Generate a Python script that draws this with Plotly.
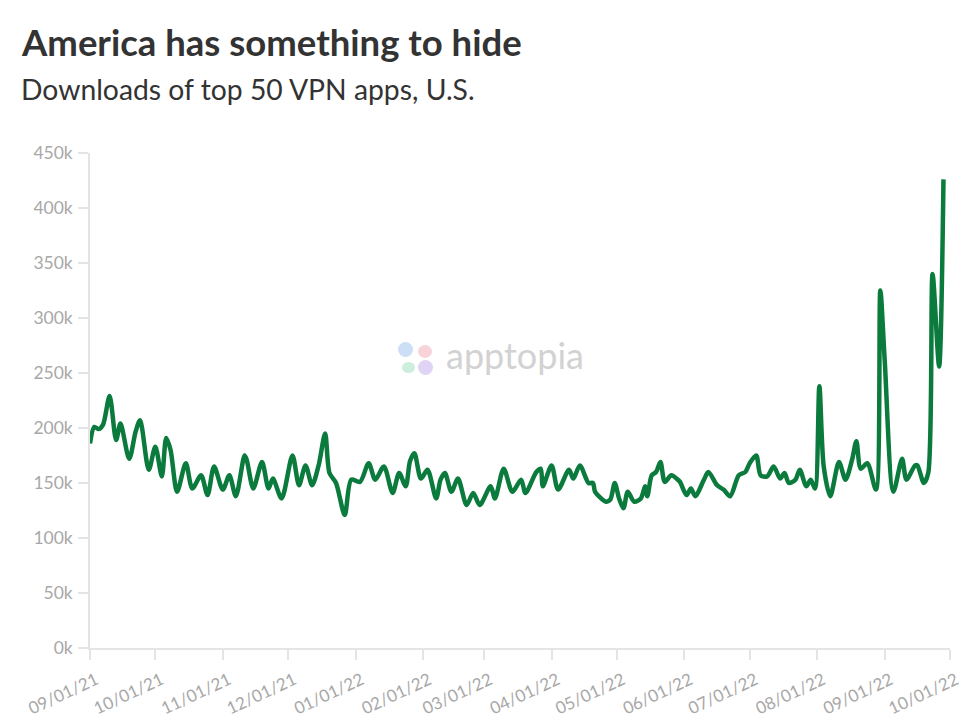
import plotly.graph_objects as go

dates = [
    "2021-09-01", "2021-09-03", "2021-09-05", "2021-09-07", "2021-09-10", "2021-09-13", "2021-09-15",
    "2021-09-19", "2021-09-22", "2021-09-24", "2021-09-28", "2021-10-01", "2021-10-04", "2021-10-06",
    "2021-10-08", "2021-10-11", "2021-10-15", "2021-10-18", "2021-10-22", "2021-10-25", "2021-10-28",
    "2021-11-01", "2021-11-04", "2021-11-07", "2021-11-11", "2021-11-12", "2021-11-15", "2021-11-19",
    "2021-11-22", "2021-11-24", "2021-11-28", "2021-12-03", "2021-12-06", "2021-12-09", "2021-12-12",
    "2021-12-15", "2021-12-18", "2021-12-20", "2021-12-23", "2021-12-27", "2021-12-30", "2022-01-03",
    "2022-01-07", "2022-01-10", "2022-01-14", "2022-01-18", "2022-01-21", "2022-01-24", "2022-01-26",
    "2022-01-28", "2022-01-31", "2022-02-03", "2022-02-07", "2022-02-09", "2022-02-11", "2022-02-14",
    "2022-02-17", "2022-02-21", "2022-02-24", "2022-02-27", "2022-03-04", "2022-03-06", "2022-03-10",
    "2022-03-14", "2022-03-18", "2022-03-20", "2022-03-25", "2022-03-27", "2022-03-28", "2022-04-01",
    "2022-04-04", "2022-04-09", "2022-04-11", "2022-04-14", "2022-04-18", "2022-04-20", "2022-04-21",
    "2022-04-26", "2022-04-28", "2022-04-30", "2022-05-02", "2022-05-04", "2022-05-06", "2022-05-09",
    "2022-05-12", "2022-05-14", "2022-05-15", "2022-05-17", "2022-05-19", "2022-05-21", "2022-05-23",
    "2022-05-26", "2022-05-29", "2022-05-30", "2022-06-02", "2022-06-04", "2022-06-06", "2022-06-10",
    "2022-06-12", "2022-06-16", "2022-06-19", "2022-06-22", "2022-06-26", "2022-06-29", "2022-07-01",
    "2022-07-04", "2022-07-06", "2022-07-09", "2022-07-12", "2022-07-15", "2022-07-17", "2022-07-19",
    "2022-07-22", "2022-07-24", "2022-07-27", "2022-07-29", "2022-07-31", "2022-08-02", "2022-08-04",
    "2022-08-07", "2022-08-11", "2022-08-14", "2022-08-17", "2022-08-19", "2022-08-21", "2022-08-24",
    "2022-08-28", "2022-08-30", "2022-09-01", "2022-09-05", "2022-09-09", "2022-09-11", "2022-09-15",
    "2022-09-16", "2022-09-19", "2022-09-21", "2022-09-23", "2022-09-26", "2022-09-28",
]

downloads = [
    186000, 201000, 199000, 203000, 229000, 189000, 204000,
    172000, 197000, 207000, 162000, 183000, 156000, 191000,
    180000, 142000, 168000, 145000, 157000, 139000, 165000,
    144000, 157000, 138000, 175000, 171000, 145000, 169000,
    145000, 154000, 136000, 175000, 148000, 166000, 148000,
    166000, 195000, 159000, 150000, 121000, 153000, 151000,
    168000, 153000, 165000, 141000, 159000, 147000, 170000,
    177000, 154000, 162000, 136000, 153000, 159000, 142000,
    154000, 130000, 141000, 130000, 147000, 136000, 163000,
    142000, 153000, 141000, 160000, 163000, 147000, 166000,
    144000, 162000, 154000, 166000, 150000, 150000, 142000,
    133000, 135000, 150000, 136000, 127000, 142000, 133000,
    136000, 147000, 138000, 157000, 160000, 169000, 151000,
    157000, 153000, 151000, 139000, 145000, 138000, 153000,
    160000, 148000, 144000, 138000, 157000, 160000, 168000,
    175000, 157000, 156000, 165000, 154000, 159000, 150000,
    153000, 162000, 147000, 153000, 145000, 238000, 165000,
    138000, 169000, 153000, 171000, 188000, 163000, 168000,
    144000, 325000, 262000, 142000, 172000, 153000, 166000,
    166000, 150000, 159000, 340000, 256000, 426000,
]

y_tickvals = [0, 50000, 100000, 150000, 200000, 250000, 300000, 350000, 400000, 450000]
y_ticktext = ["0k", "50k", "100k", "150k", "200k", "250k", "300k", "350k", "400k", "450k"]

x_tickvals = ["2021-09-01", "2021-10-01", "2021-11-01", "2021-12-01", "2022-01-01", "2022-02-01",
              "2022-03-01", "2022-04-01", "2022-05-01", "2022-06-01", "2022-07-01", "2022-08-01",
              "2022-09-01", "2022-10-01"]
x_ticktext = ["09/01/21", "10/01/21", "11/01/21", "12/01/21", "01/01/22", "02/01/22", "03/01/22",
              "04/01/22", "05/01/22", "06/01/22", "07/01/22", "08/01/22", "09/01/22", "10/01/22"]

title_text = "America has something to hide"
subtitle_text = "Downloads of top 50 VPN apps, U.S."

FONT = "Lato, 'Noto Sans', sans-serif"
LINE_COLOR = "#0b7a3d"
AXIS_GRAY = "#e4e4e4"
TICK_FONT_COLOR = "#a8a8a8"

fig = go.Figure()
fig.add_trace(go.Scatter(
    x=dates, y=downloads, mode="lines",
    line=dict(color=LINE_COLOR, width=4.5, shape="spline", smoothing=0.8),
    hoverinfo="skip", showlegend=False,
))

# The page body has an 8px margin; size the figure so the plot lands where the reference has it.
OFF = 8
W, H = 980 - OFF, 723 - OFF
L, R, T, B = 90 - OFF, 30, 153 - OFF, 75
pw, ph = W - L - R, H - T - B


def px(xp):
    return (xp - OFF - L) / pw


def py(yp):
    return (H - B - (yp - OFF)) / ph


# watermark logo circles (page pixel positions)
circles = [
    (398, 342, 413, 357, "#cddff6"),
    (418, 345, 432, 358, "#f8d3da"),
    (402, 362, 415, 373, "#cdeedd"),
    (418, 360, 433, 375, "#e0d4f6"),
]
for x0, y0, x1, y1, col in circles:
    fig.add_shape(type="circle", xref="paper", yref="paper",
                  x0=px(x0), x1=px(x1), y0=py(y1), y1=py(y0),
                  fillcolor=col, line=dict(width=0), layer="below")

annotations = [
    dict(text="<b>" + title_text + "</b>", x=px(19), y=py(42), xref="paper", yref="paper",
         xanchor="left", yanchor="middle", showarrow=False,
         font=dict(family=FONT, size=36.5, color="#333333")),
    dict(text=subtitle_text, x=px(19), y=py(89), xref="paper", yref="paper",
         xanchor="left", yanchor="middle", showarrow=False,
         font=dict(family=FONT, size=28.3, color="#333333")),
    dict(text="apptopia", x=px(444), y=py(355), xref="paper", yref="paper",
         xanchor="left", yanchor="middle", showarrow=False,
         font=dict(family=FONT, size=36, color="#d2d2d2")),
]

fig.update_layout(
    width=W, height=H,
    margin=dict(l=L, r=R, t=T, b=B, pad=0),
    paper_bgcolor="white", plot_bgcolor="white",
    font=dict(family=FONT),
    annotations=annotations,
    xaxis=dict(
        range=["2021-09-01", "2022-10-01"], automargin=False,
        tickmode="array", tickvals=x_tickvals, ticktext=x_ticktext,
        tickangle=-25, showgrid=False, zeroline=False,
        showline=True, linecolor=AXIS_GRAY, linewidth=1.5,
        ticks="outside", ticklen=10, tickcolor=AXIS_GRAY, tickwidth=1.5,
        ticklabelshift=6, ticklabelstandoff=4,
        tickfont=dict(family=FONT, size=17, color=TICK_FONT_COLOR),
    ),
    yaxis=dict(
        range=[0, 450000], automargin=False,
        tickmode="array", tickvals=y_tickvals, ticktext=y_ticktext,
        showgrid=False, zeroline=False,
        showline=True, linecolor=AXIS_GRAY, linewidth=1.5,
        ticks="outside", ticklen=10, tickcolor=AXIS_GRAY, tickwidth=1.5,
        ticklabelstandoff=2,
        tickfont=dict(family=FONT, size=17.5, color=TICK_FONT_COLOR),
    ),
)

fig.write_html("out.html")
